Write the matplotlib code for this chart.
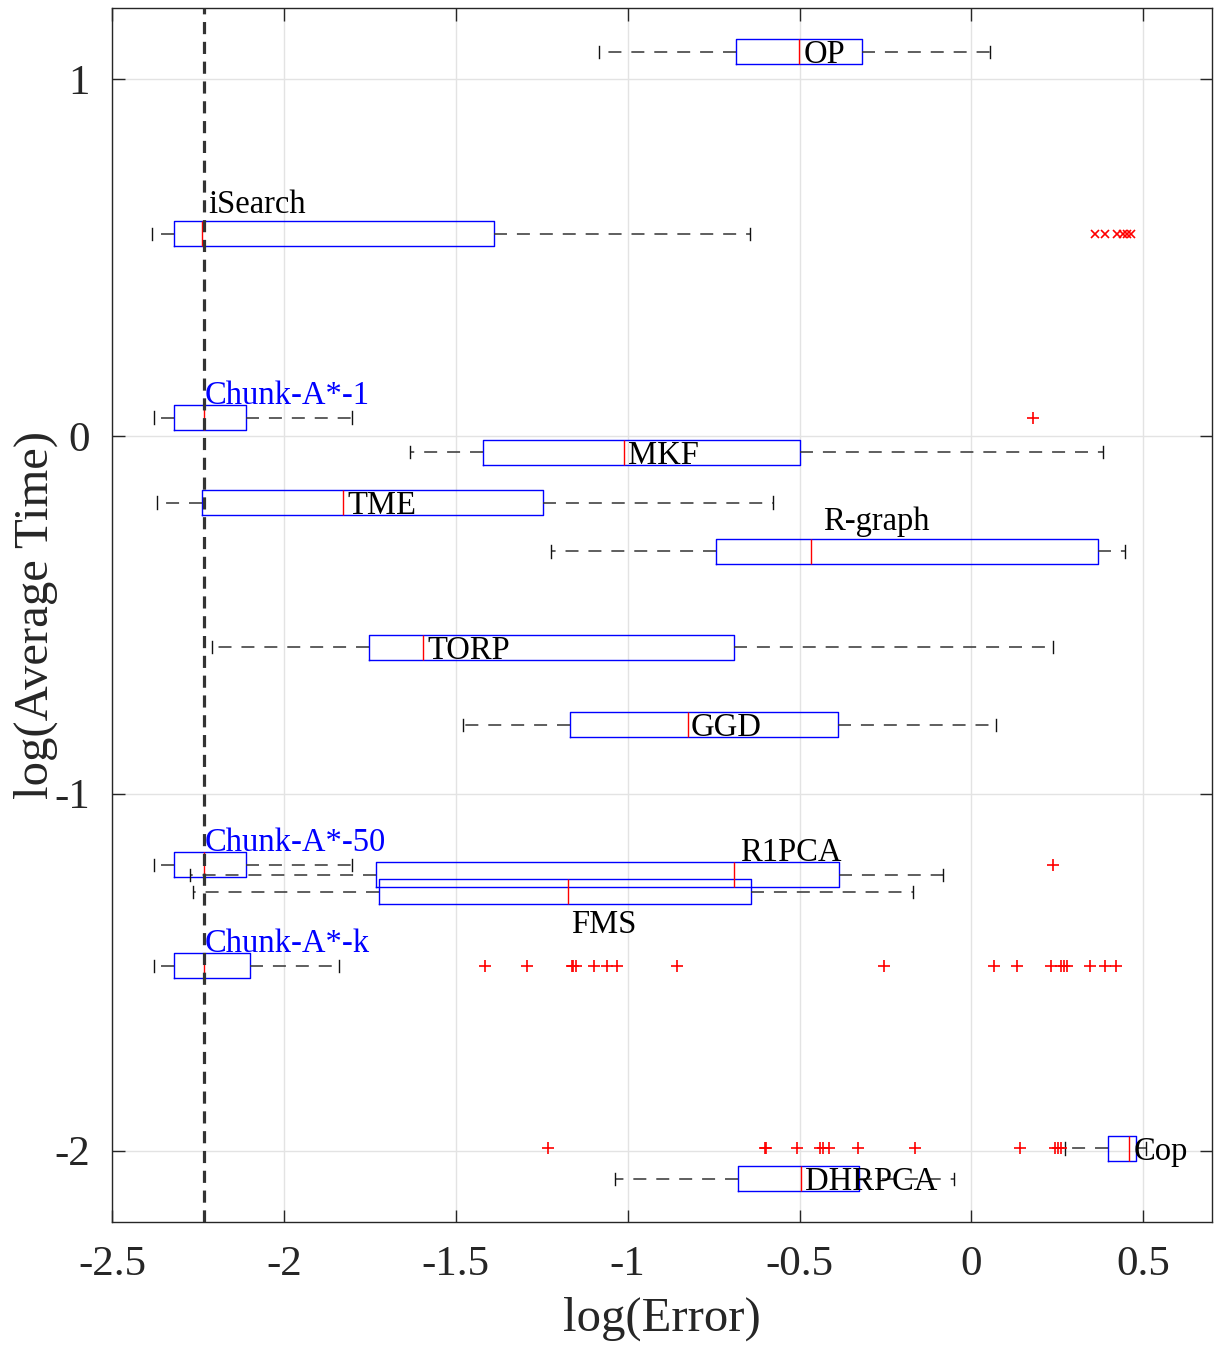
"""Box plots of log(Error) for each method, placed at its log(Average Time)."""

import matplotlib
matplotlib.use("Agg")
import matplotlib.pyplot as plt

plt.rcParams["font.family"] = ["Liberation Serif", "DejaVu Serif"]
plt.rcParams["axes.unicode_minus"] = False

# ---- data ----
methods = ["OP", "iSearch", "Chunk-A*-1", "MKF", "TME", "R-graph", "TORP", "GGD",
           "Chunk-A*-50", "R1PCA", "FMS", "Chunk-A*-k", "Cop", "DHRPCA"]
log_time = [1.077, 0.568, 0.053, -0.044, -0.185, -0.322, -0.590, -0.807,
            -1.199, -1.227, -1.275, -1.482, -1.994, -2.079]
whisker_low = [-1.083, -2.384, -2.377, -1.633, -2.369, -1.223, -2.210, -1.479,
               -2.377, -2.274, -2.265, -2.377, 0.271, -1.036]
quartile_1 = [-0.684, -2.320, -2.321, -1.421, -2.238, -0.742, -1.753, -1.167,
              -2.321, -1.732, -1.723, -2.321, 0.396, -0.678]
median = [-0.501, -2.239, -2.233, -1.010, -1.827, -0.466, -1.595, -0.824,
          -2.233, -0.690, -1.173, -2.233, 0.459, -0.495]
quartile_3 = [-0.317, -1.389, -2.109, -0.498, -1.245, 0.367, -0.690, -0.387,
              -2.109, -0.384, -0.640, -2.099, 0.478, -0.326]
whisker_high = [0.055, -0.643, -1.801, 0.384, -0.577, 0.448, 0.236, 0.073,
                -1.801, -0.082, -0.169, -1.840, 0.509, -0.052]
outliers = [
    [],
    [0.361, 0.390, 0.425, 0.440, 0.454, 0.463],
    [0.178],
    [], [], [], [], [],
    [0.237],
    [], [],
    [-1.415, -1.293, -1.162, -1.158, -1.150, -1.097, -1.059, -1.030, -0.855,
     -0.255, 0.066, 0.133, 0.233, 0.262, 0.269, 0.279, 0.346, 0.388, 0.421],
    [-1.231, -0.600, -0.597, -0.507, -0.440, -0.432, -0.415, -0.330, -0.165,
     0.141, 0.242, 0.251, 0.261],
    [],
]
reference_error = -2.232

# ---- label styling ----
label_side = ["mid", "high", "above", "mid", "mid", "high", "mid", "mid",
              "above", "above", "below", "above", "mid", "mid"]
label_dx = [4, 7, 1, 4, 4, 12, 4, 2, 1, 6, 3, 1, 4, 4]
label_color = ["black", "black", "blue", "black", "black", "black", "black", "black",
               "blue", "black", "black", "blue", "black", "black"]
side_dy = {"mid": -11.5, "above": 14, "high": 21, "below": -41}

BOX_HEIGHT = 0.07

figure = plt.figure(figsize=(12.15, 13.45), dpi=100)
axis = figure.add_axes([112 / 1215, 123 / 1345, 1100 / 1215, 1214 / 1345])

stats = []
for i, name in enumerate(methods):
    stats.append({
        "label": name,
        "whislo": whisker_low[i],
        "q1": quartile_1[i],
        "med": median[i],
        "q3": quartile_3[i],
        "whishi": whisker_high[i],
        "fliers": outliers[i],
    })

artists = axis.bxp(
    stats,
    positions=log_time,
    widths=BOX_HEIGHT,
    capwidths=0.034,
    orientation="horizontal",
    manage_ticks=False,
    boxprops=dict(color="#0000ff", linewidth=1.0),
    medianprops=dict(color="#ff0000", linewidth=1.0),
    whiskerprops=dict(color="#333333", linewidth=1.1, linestyle=(0, (8.5, 6.5))),
    capprops=dict(color="#111111", linewidth=1.0),
    flierprops=dict(marker="+", markeredgecolor="#ff0000", markersize=8,
                    markeredgewidth=1.2, linestyle="none"),
)
# iSearch outliers are drawn with crosses
artists["fliers"][1].set_marker("x")
artists["fliers"][1].set_markersize(6)

axis.axvline(reference_error, color="#333333", linewidth=2.3,
             linestyle=(0, (3.8, 2.4)), zorder=5)

for i, name in enumerate(methods):
    axis.annotate(
        name,
        xy=(median[i], log_time[i]),
        xytext=(label_dx[i], side_dy[label_side[i]]),
        textcoords="offset pixels",
        ha="left",
        va="baseline",
        fontsize=23.5,
        color=label_color[i],
        zorder=6,
    )

axis.set_xlim(-2.5, 0.7)
axis.set_ylim(-2.2, 1.2)
axis.set_xticks([-2.5, -2, -1.5, -1, -0.5, 0, 0.5])
axis.set_xticklabels(["-2.5", "-2", "-1.5", "-1", "-0.5", "0", "0.5"])
axis.set_yticks([-2, -1, 0, 1])
axis.set_yticklabels(["-2", "-1", "0", "1"])
axis.tick_params(axis="both", direction="in", length=9, width=1,
                 top=True, right=True, labelsize=31, colors="#262626")
axis.tick_params(axis="x", pad=17)
axis.tick_params(axis="y", pad=16)
axis.grid(True, color="#e3e3e3", linewidth=1)
axis.set_axisbelow(True)
for spine in axis.spines.values():
    spine.set_color("#262626")
    spine.set_linewidth(1)

axis.set_xlabel("log(Error)", fontsize=35, labelpad=9, color="#262626")
axis.set_ylabel("log(Average Time)", fontsize=35, color="#262626")
axis.yaxis.set_label_coords(-0.049, 0.5)

figure.savefig("out.png", dpi=100)
